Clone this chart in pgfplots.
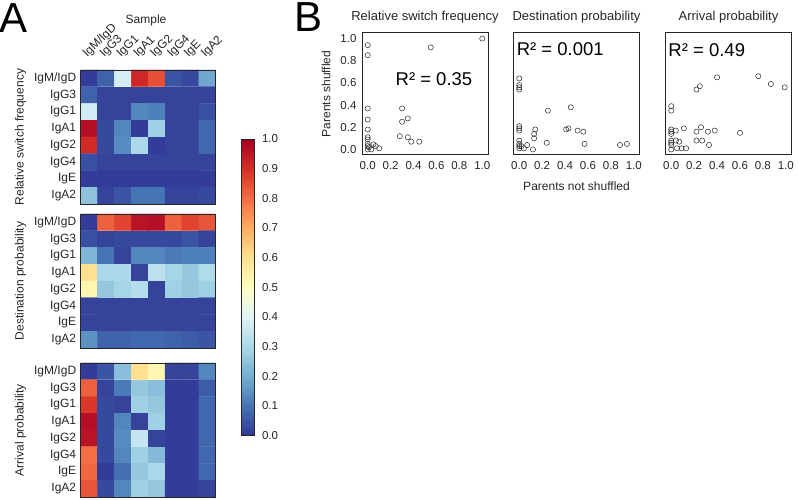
\documentclass[border=0pt]{standalone}
\usepackage{fontspec}
\setmainfont{Liberation Sans}
\usepackage{pgfplots}
\pgfplotsset{compat=1.18}
\definecolor{txt}{gray}{0.15}
\newcommand{\fs}[1]{\fontsize{#1}{#1}\selectfont}
\pgfplotsset{
  colormap={rdylbu}{rgb255=(49,54,149) rgb255=(69,117,180) rgb255=(116,173,209) rgb255=(171,217,233) rgb255=(224,243,248) rgb255=(255,255,191) rgb255=(254,224,144) rgb255=(253,174,97) rgb255=(244,109,67) rgb255=(215,48,39) rgb255=(165,0,38)},
  nf/.style={/pgf/number format/fixed, /pgf/number format/fixed zerofill, /pgf/number format/precision=1, /pgf/number format/assume math mode=true},
  hm/.style={
    scale only axis, width=135pt, height=134pt, anchor=north west,
    xmin=-0.5, xmax=7.5, ymin=-0.5, ymax=7.5, y dir=reverse,
    xtick={0,...,7}, ytick={0,...,7},
    yticklabels={IgM/IgD,IgG3,IgG1,IgA1,IgG2,IgG4,IgE,IgA2},
    xticklabels={},
    major tick length=0pt,
    axis line style={draw=txt, line width=0.9pt},
    tick label style={font=\fs{12}, text=txt},
    yticklabel style={xshift=-1pt},
    colormap name=rdylbu, point meta min=0, point meta max=1,
    ylabel style={at={(axis description cs:-0.446,0.5)}, anchor=center, font=\fs{12}, text=txt},
    axis on top,
  },
  sc/.style={
    scale only axis, width=126pt, height=122pt, anchor=north west,
    xmin=-0.05, xmax=1.05, ymin=-0.05, ymax=1.05,
    xtick={0,0.2,0.4,0.6,0.8,1}, ytick={0,0.2,0.4,0.6,0.8,1},
    major tick length=0pt,
    axis line style={draw=txt, line width=1pt},
    tick label style={font=\fs{11.5}, text=txt, nf},
    xticklabel style={yshift=-3pt},
    yticklabel style={xshift=-2pt},
    title style={font=\fs{13}, text=txt, at={(0.5,1)}, anchor=south, inner sep=0pt, yshift=3.7pt},
    label style={font=\fs{12}, text=txt},
  },
  pts/.style={only marks, mark=o, mark size=2.6pt, mark options={draw=black!85, line width=0.5pt}},
}
\begin{document}
\begin{tikzpicture}
\path[use as bounding box] (0,0) rectangle (798pt,500pt);
\node[font=\fs{42}, text=black] at (14pt,482pt) {A};
\node[font=\fs{42}, text=black] at (309pt,482.5pt) {B};
\node[font=\fs{12}, text=txt] at (146pt,480pt) {Sample};

% Relative switch frequency heatmap
\begin{axis}[hm, at={(80.7pt,430pt)},
  xticklabel pos=upper,
  xticklabels={IgM/IgD,IgG3,IgG1,IgA1,IgG2,IgG4,IgE,IgA2},
  xticklabel style={yshift=10pt, rotate=45, anchor=south west, inner sep=0pt},
  ylabel={Relative switch frequency},
  colorbar,
  colorbar style={at={(parent axis.north east)}, anchor=north west, xshift=17.3pt, yshift=-69pt,
    scale only axis, width=13pt, height=296.7pt, y dir=normal,
    ytick={0,0.1,0.2,0.3,0.4,0.5,0.6,0.7,0.8,0.9,1}, major tick length=0pt,
    axis line style={draw=txt, line width=0.8pt},
    yticklabel style={font=\fs{11.5}, text=txt, xshift=4pt, nf}},
]
\addplot[matrix plot*, mesh/cols=8, point meta=explicit] table[meta=c, row sep=\\] {
x y c\\
0 0 0.01\\ 1 0 0.07\\ 2 0 0.38\\ 3 0 0.92\\ 4 0 0.85\\ 5 0 0.05\\ 6 0 0.03\\ 7 0 0.19\\
0 1 0.07\\ 1 1 0.02\\ 2 1 0.02\\ 3 1 0.02\\ 4 1 0.02\\ 5 1 0.02\\ 6 1 0.02\\ 7 1 0.02\\
0 2 0.37\\ 1 2 0.02\\ 2 2 0.02\\ 3 2 0.13\\ 4 2 0.12\\ 5 2 0.02\\ 6 2 0.02\\ 7 2 0.04\\
0 3 0.97\\ 1 3 0.03\\ 2 3 0.13\\ 3 3 0.01\\ 4 3 0.28\\ 5 3 0.02\\ 6 3 0.02\\ 7 3 0.08\\
0 4 0.91\\ 1 4 0.03\\ 2 4 0.14\\ 3 4 0.30\\ 4 4 0.01\\ 5 4 0.02\\ 6 4 0.02\\ 7 4 0.08\\
0 5 0.04\\ 1 5 0.02\\ 2 5 0.02\\ 3 5 0.02\\ 4 5 0.02\\ 5 5 0.02\\ 6 5 0.02\\ 7 5 0.02\\
0 6 0.01\\ 1 6 0.01\\ 2 6 0.01\\ 3 6 0.01\\ 4 6 0.01\\ 5 6 0.01\\ 6 6 0.01\\ 7 6 0.01\\
0 7 0.25\\ 1 7 0.02\\ 2 7 0.05\\ 3 7 0.10\\ 4 7 0.10\\ 5 7 0.02\\ 6 7 0.02\\ 7 7 0.03\\
};
\end{axis}

% Destination probability heatmap
\begin{axis}[hm, at={(80.7pt,286pt)}, ylabel={Destination probability}]
\addplot[matrix plot*, mesh/cols=8, point meta=explicit] table[meta=c, row sep=\\] {
x y c\\
0 0 0.01\\ 1 0 0.82\\ 2 0 0.87\\ 3 0 0.96\\ 4 0 0.97\\ 5 0 0.82\\ 6 0 0.87\\ 7 0 0.84\\
0 1 0.04\\ 1 1 0.02\\ 2 1 0.03\\ 3 1 0.03\\ 4 1 0.03\\ 5 1 0.03\\ 6 1 0.05\\ 7 1 0.02\\
0 2 0.22\\ 1 2 0.10\\ 2 2 0.02\\ 3 2 0.13\\ 4 2 0.13\\ 5 2 0.11\\ 6 2 0.12\\ 7 2 0.12\\
0 3 0.60\\ 1 3 0.30\\ 2 3 0.30\\ 3 3 0.02\\ 4 3 0.33\\ 5 3 0.29\\ 6 3 0.26\\ 7 3 0.31\\
0 4 0.53\\ 1 4 0.26\\ 2 4 0.29\\ 3 4 0.32\\ 4 4 0.02\\ 5 4 0.28\\ 6 4 0.26\\ 7 4 0.28\\
0 5 0.02\\ 1 5 0.02\\ 2 5 0.02\\ 3 5 0.02\\ 4 5 0.02\\ 5 5 0.02\\ 6 5 0.02\\ 7 5 0.02\\
0 6 0.02\\ 1 6 0.02\\ 2 6 0.02\\ 3 6 0.02\\ 4 6 0.02\\ 5 6 0.02\\ 6 6 0.02\\ 7 6 0.02\\
0 7 0.15\\ 1 7 0.07\\ 2 7 0.07\\ 3 7 0.08\\ 4 7 0.08\\ 5 7 0.07\\ 6 7 0.06\\ 7 7 0.05\\
};
\end{axis}

% Arrival probability heatmap
\begin{axis}[hm, at={(80.7pt,137pt)}, ylabel={Arrival probability}]
\addplot[matrix plot*, mesh/cols=8, point meta=explicit] table[meta=c, row sep=\\] {
x y c\\
0 0 0.01\\ 1 0 0.05\\ 2 0 0.24\\ 3 0 0.60\\ 4 0 0.53\\ 5 0 0.02\\ 6 0 0.02\\ 7 0 0.13\\
0 1 0.82\\ 1 1 0.02\\ 2 1 0.11\\ 3 1 0.26\\ 4 1 0.24\\ 5 1 0.01\\ 6 1 0.01\\ 7 1 0.06\\
0 2 0.89\\ 1 2 0.03\\ 2 2 0.02\\ 3 2 0.28\\ 4 2 0.26\\ 5 2 0.01\\ 6 2 0.01\\ 7 2 0.08\\
0 3 0.97\\ 1 3 0.03\\ 2 3 0.13\\ 3 3 0.02\\ 4 3 0.28\\ 5 3 0.01\\ 6 3 0.01\\ 7 3 0.08\\
0 4 0.96\\ 1 4 0.03\\ 2 4 0.14\\ 3 4 0.35\\ 4 4 0.02\\ 5 4 0.01\\ 6 4 0.01\\ 7 4 0.08\\
0 5 0.80\\ 1 5 0.03\\ 2 5 0.13\\ 3 5 0.28\\ 4 5 0.23\\ 5 5 0.01\\ 6 5 0.01\\ 7 5 0.08\\
0 6 0.81\\ 1 6 0.01\\ 2 6 0.09\\ 3 6 0.26\\ 4 6 0.30\\ 5 6 0.01\\ 6 6 0.01\\ 7 6 0.08\\
0 7 0.84\\ 1 7 0.03\\ 2 7 0.13\\ 3 7 0.28\\ 4 7 0.26\\ 5 7 0.01\\ 6 7 0.01\\ 7 7 0.02\\
};
\end{axis}

% Scatter 1
\begin{axis}[sc, at={(362pt,467pt)}, title={Relative switch frequency},
  ylabel={Parents shuffled}, ylabel style={at={(axis description cs:-0.286,0.5)}, anchor=center}]
\addplot[pts] table[row sep=\\] {
x y\\
0 0.94\\ 0 0.85\\ 0.55 0.92\\ 1.0 1.0\\ 0 0.37\\ 0 0.27\\ 0 0.18\\ 0 0.11\\ 0 0.09\\ 0 0.05\\ 0 0.03\\ 0 0.0\\
0.03 0.0\\ 0.05 0.045\\ 0.07 0.03\\ 0.1 0.01\\ 0.30 0.37\\ 0.35 0.28\\ 0.30 0.25\\ 0.28 0.12\\ 0.35 0.11\\ 0.38 0.07\\ 0.45 0.07\\ 0.01 0.02\\
};
\node[font=\fs{18.5}, text=black, inner sep=0pt] at (rel axis cs:0.571,0.623) {R² = 0.35};
\end{axis}

% Scatter 2
\begin{axis}[sc, at={(513.5pt,467pt)}, title={Destination probability}, yticklabels={},
  xlabel={Parents not shuffled}, xlabel style={at={(axis description cs:0.5,-0.252)}, anchor=center}]
\addplot[pts] table[row sep=\\] {
x y\\
0 0.64\\ 0 0.58\\ 0 0.56\\ 0 0.54\\ 0.25 0.35\\ 0.45 0.38\\ 0 0.21\\ 0 0.19\\ 0 0.17\\ 0.14 0.18\\ 0.13 0.14\\ 0.13 0.10\\
0.41 0.18\\ 0.43 0.19\\ 0.51 0.17\\ 0.56 0.16\\ 0.24 0.06\\ 0.57 0.05\\ 0.88 0.04\\ 0.94 0.05\\ 0 0.08\\ 0 0.05\\ 0 0.01\\ 0.02 0.03\\
0.07 0.04\\ 0.04 0.01\\ 0.12 0.0\\ 0 0.03\\
};
\node[font=\fs{18.5}, text=black, inner sep=0pt, anchor=west] at (rel axis cs:0.025,0.869) {R² = 0.001};
\end{axis}

% Scatter 3
\begin{axis}[sc, at={(665.5pt,467pt)}, title={Arrival probability}, yticklabels={}]
\addplot[pts] table[row sep=\\] {
x y\\
0.76 0.66\\ 0.40 0.65\\ 0.87 0.59\\ 0.99 0.56\\ 0.25 0.57\\ 0.22 0.54\\ 0 0.39\\ 0 0.35\\ 0 0.18\\ 0.04 0.17\\ 0.11 0.19\\ 0.26 0.20\\
0.22 0.16\\ 0.32 0.16\\ 0.38 0.17\\ 0.60 0.15\\ 0 0.14\\ 0 0.08\\ 0.04 0.08\\ 0.07 0.07\\ 0.22 0.08\\ 0.27 0.08\\ 0.33 0.04\\ 0 0.04\\
0 0.0\\ 0.05 0.01\\ 0.09 0.01\\ 0.13 0.01\\ 0 0.06\\ 0 0.16\\
};
\node[font=\fs{18.5}, text=black, inner sep=0pt, anchor=west] at (rel axis cs:0.022,0.86) {R² = 0.49};
\end{axis}
\end{tikzpicture}
\end{document}
